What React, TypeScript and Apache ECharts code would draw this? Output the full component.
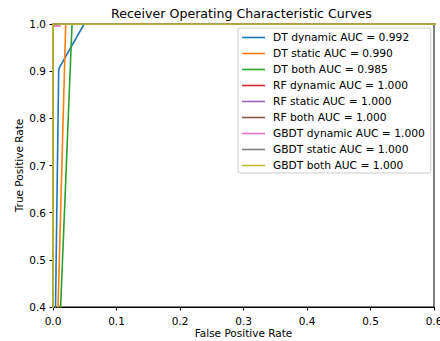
import React, { useEffect, useRef } from "react";
import * as echarts from "echarts";

const seriesNames = [
  "DT dynamic AUC = 0.992",
  "DT static AUC = 0.990",
  "DT both AUC = 0.985",
  "RF dynamic AUC = 1.000",
  "RF static AUC = 1.000",
  "RF both AUC = 1.000",
  "GBDT dynamic AUC = 1.000",
  "GBDT static AUC = 1.000",
  "GBDT both AUC = 1.000",
];

const colors = [
  "#1f77b4", "#ff7f0e", "#2ca02c", "#d62728", "#9467bd",
  "#8c564b", "#e377c2", "#7f7f7f", "#bcbd22",
];

// [fpr, tpr] points for each curve
const dtDynamic = [[0, 0], [0.009, 0.905], [0.049, 1.0], [1, 1]];
const dtStatic = [[0, 0], [0.02, 1.0], [1, 1]];
const dtBoth = [[0, 0], [0.03, 1.0], [1, 1]];
const rfDynamic = [[0, 0], [0, 1.0], [1, 1]];
const rfStatic = [[0, 0], [0, 1.0], [1, 1]];
const rfBoth = [[0, 0], [0, 1.0], [1, 1]];
const gbdtDynamic = [[0, 0], [0, 0.996], [0.011, 0.996], [0.011, 1.0], [1, 1]];
const gbdtStatic = [[0, 0], [0, 1.0], [1, 1]];
const gbdtBoth = [[0, 0], [0, 1.0], [1, 1]];

const curves = [dtDynamic, dtStatic, dtBoth, rfDynamic, rfStatic, rfBoth, gbdtDynamic, gbdtStatic, gbdtBoth];

const xTicks = { min: 0, max: 0.6, interval: 0.1 };
const yTicks = { min: 0.4, max: 1.0, interval: 0.1 };

const FONT = "DejaVu Sans";
const FS = 10.5;

export default function App() {
  const ref = useRef<HTMLDivElement>(null);
  useEffect(() => {
    if (!ref.current) return;
    const chart = echarts.init(ref.current, undefined, { renderer: "svg" });
    chart.setOption({
      animation: false,
      backgroundColor: "#ffffff",
      textStyle: { fontFamily: FONT },
      title: {
        text: "Receiver Operating Characteristic Curves",
        left: 111,
        top: 2,
        padding: 0,
        textStyle: { fontFamily: FONT, fontSize: 12.6, fontWeight: "normal", color: "#000", lineHeight: 22 },
      },
      grid: {
        left: 53,
        right: 6,
        top: 24,
        bottom: 34,
        containLabel: false,
        outerBoundsMode: "none",
        show: true,
        borderColor: "#000",
        borderWidth: 1,
        backgroundColor: "transparent",
      },
      legend: {
        orient: "vertical",
        left: 238,
        top: 28,
        padding: [3, 6, 1, 4],
        backgroundColor: "rgba(255,255,255,0.8)",
        borderColor: "#cccccc",
        borderWidth: 1,
        borderRadius: 2,
        itemWidth: 23,
        itemHeight: 1.6,
        itemGap: 3,
        icon: "rect",
        data: seriesNames,
        textStyle: { fontFamily: FONT, fontSize: 10.7, color: "#000", lineHeight: 13, padding: [0, 0, 0, 3] },
      },
      xAxis: {
        type: "value",
        min: xTicks.min,
        max: xTicks.max,
        interval: xTicks.interval,
        name: "False Positive Rate",
        nameLocation: "middle",
        nameGap: 20,
        nameMoveOverlap: false,
        nameTextStyle: { fontFamily: FONT, fontSize: FS, color: "#000" },
        splitLine: { show: false },
        axisLine: { show: true, onZero: false, lineStyle: { color: "#000", width: 1 } },
        axisTick: { show: true, inside: false, length: 3.5, lineStyle: { color: "#000" } },
        axisLabel: {
          margin: 8,
          fontFamily: FONT,
          fontSize: FS,
          color: "#000",
          formatter: (v: number) => v.toFixed(1),
        },
      },
      yAxis: {
        type: "value",
        min: yTicks.min,
        max: yTicks.max,
        interval: yTicks.interval,
        name: "True Positive Rate",
        nameLocation: "middle",
        nameGap: 29,
        nameMoveOverlap: false,
        nameTextStyle: { fontFamily: FONT, fontSize: FS, color: "#000" },
        splitLine: { show: false },
        axisLine: { show: true, onZero: false, lineStyle: { color: "#000", width: 1 } },
        axisTick: { show: true, inside: false, length: 3.5, lineStyle: { color: "#000" } },
        axisLabel: {
          margin: 7,
          fontFamily: FONT,
          fontSize: FS,
          color: "#000",
          formatter: (v: number) => v.toFixed(1),
        },
      },
      series: curves.map((d, i) => ({
        name: seriesNames[i],
        type: "line",
        data: d,
        showSymbol: false,
        symbol: "none",
        clip: true,
        color: colors[i],
        lineStyle: { color: colors[i], width: 1.6 },
        emphasis: { disabled: true },
      })),
    });
    return () => chart.dispose();
  }, []);
  return (
    <div
      ref={ref}
      style={{ position: "fixed", left: 0, top: 0, width: 440, height: 341 }}
    />
  );
}
